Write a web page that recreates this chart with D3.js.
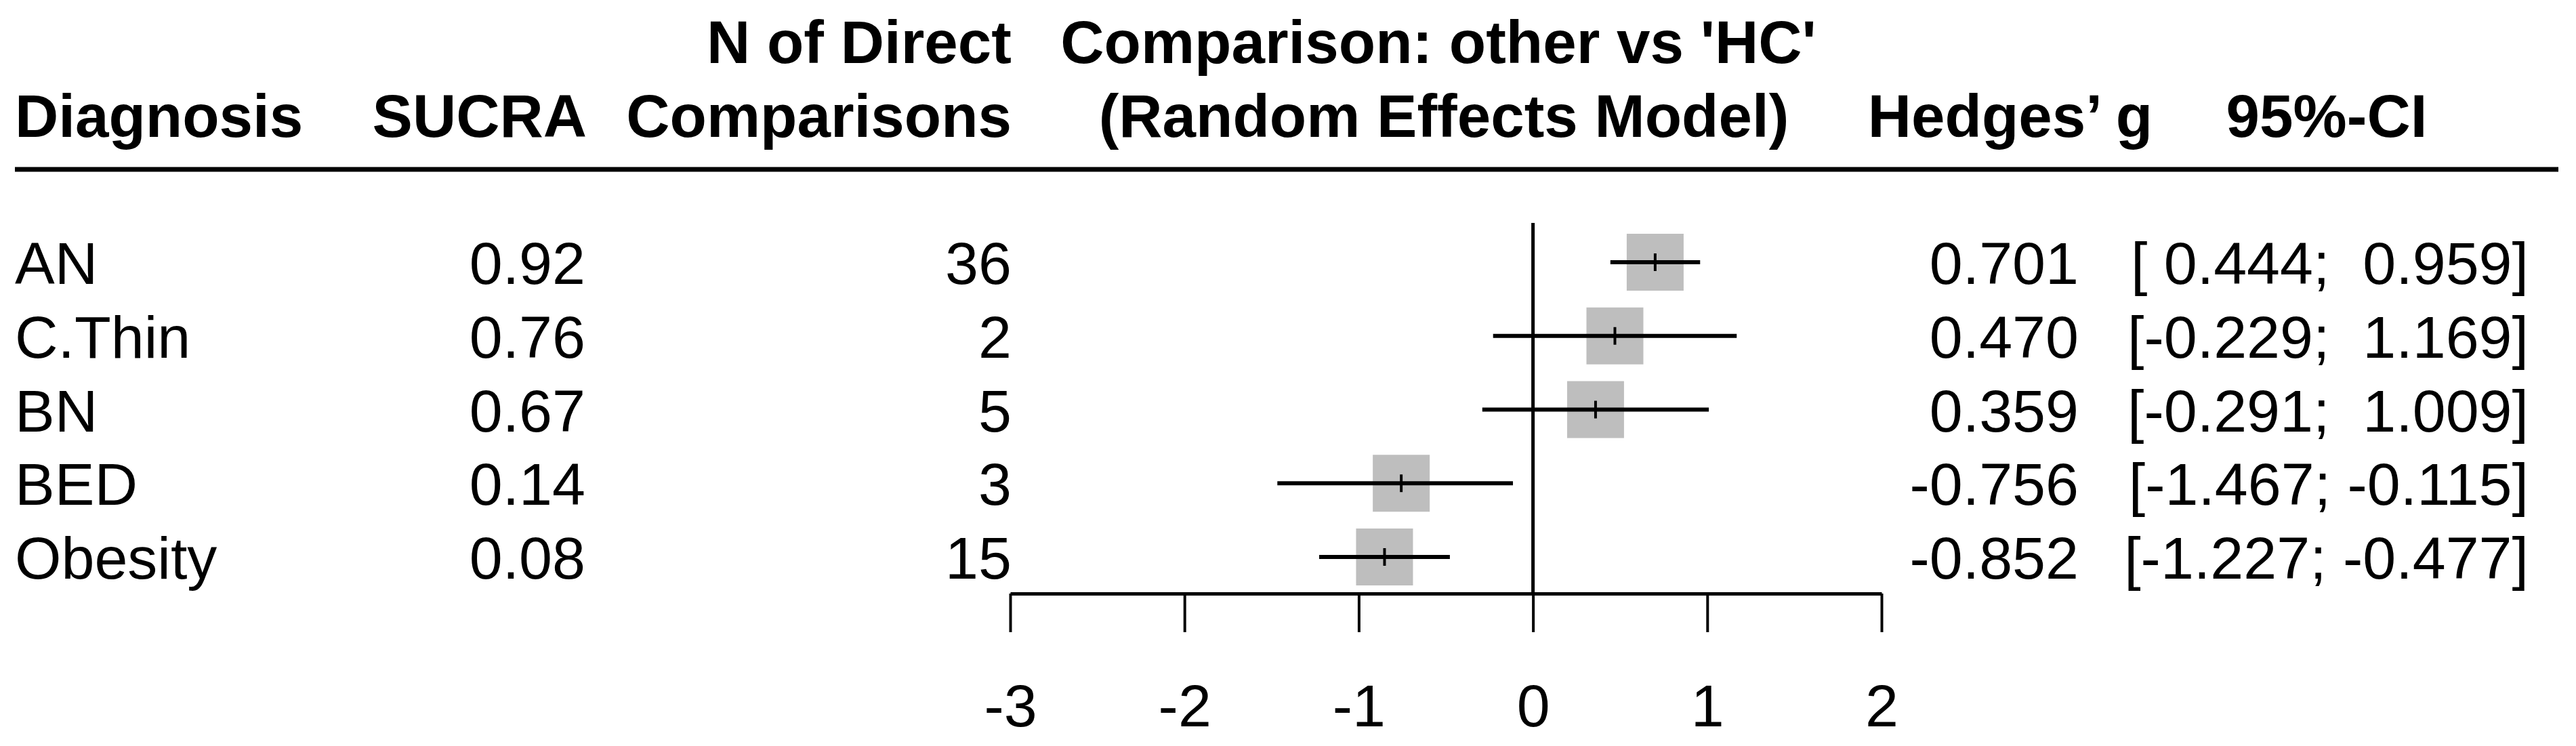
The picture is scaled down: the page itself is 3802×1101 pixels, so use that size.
<!DOCTYPE html>
<html>
<head>
<meta charset="utf-8">
<script src="https://cdn.jsdelivr.net/npm/d3@7"></script>
<style>
  body { margin: 0; background: #fff; }
  text { font-family: "Liberation Sans", Arial, Helvetica, sans-serif; fill: #000; white-space: pre; }
  .head { font-weight: bold; font-size: 89px; }
  .cell { font-size: 88px; }
</style>
</head>
<body>
<div id="chart"></div>
<script>
// table data
var diagnosis = ["AN", "C.Thin", "BN", "BED", "Obesity"];
var sucra = [0.92, 0.76, 0.67, 0.14, 0.08];
var nDirect = [36, 2, 5, 3, 15];
var hedgesG = [0.701, 0.470, 0.359, -0.756, -0.852];
var ciLower = [0.444, -0.229, -0.291, -1.467, -1.227];
var ciUpper = [0.959, 1.169, 1.009, -0.115, -0.477];
var xTicks = [-3, -2, -1, 0, 1, 2];

var width = 3802, height = 1101;

var svg = d3.select("#chart").append("svg")
    .attr("width", width)
    .attr("height", height)
    .attr("viewBox", "0 0 " + width + " " + height);

// scales
var x = d3.scaleLinear().domain([-3, 2]).range([1491, 2777]);
var y = d3.scalePoint().domain(diagnosis).range([387, 822]);

var squareSize = 84;
var axisY = 876;

// column positions
var col = {diag: 22, sucra: 864, n: 1493, g: 3068, ci: 3732};

// headings
var headings = [
    {t: "Diagnosis", x: col.diag, y: 202, a: "start"},
    {t: "SUCRA", x: 866, y: 202, a: "end"},
    {t: "N of Direct", x: col.n, y: 93, a: "end"},
    {t: "Comparisons", x: col.n, y: 202, a: "end"},
    {t: "Comparison: other vs 'HC'", x: 2123, y: 93, a: "middle"},
    {t: "(Random Effects Model)", x: 2131, y: 202, a: "middle"},
    {t: "Hedges\u2019 g", x: 2967, y: 202, a: "middle"},
    {t: "95%-CI", x: 3434, y: 202, a: "middle"}
];
svg.selectAll(".head")
    .data(headings)
    .enter().append("text")
        .attr("class", "head")
        .attr("x", function(d){return d.x;})
        .attr("y", function(d){return d.y;})
        .attr("text-anchor", function(d){return d.a;})
        .text(function(d){return d.t;});

// thick rule under the heading
svg.append("line")
    .attr("x1", 22).attr("x2", 3776)
    .attr("y1", 250).attr("y2", 250)
    .attr("stroke", "#000")
    .attr("stroke-width", 7);

var fmt2 = d3.format(".2f"), fmt3 = d3.format(".3f");
var pad = function(v){ var s = fmt3(v).replace("\u2212", "-"); return (v < 0 ? "" : " ") + s; };

var rows = diagnosis.map(function(d, i){
    return {name: d, sucra: sucra[i], n: nDirect[i], g: hedgesG[i], lo: ciLower[i], hi: ciUpper[i]};
});

var rowG = svg.selectAll(".row")
    .data(rows)
    .enter().append("g")
        .attr("class", "row")
        .attr("transform", function(d){return "translate(0," + y(d.name) + ")";});

function addCell(xPos, anchor, fn) {
    rowG.append("text")
        .attr("class", "cell")
        .attr("x", xPos)
        .attr("y", 32)
        .attr("text-anchor", anchor)
        .text(fn);
}
addCell(col.diag, "start", function(d){return d.name;});
addCell(col.sucra, "end", function(d){return fmt2(d.sucra);});
addCell(col.n, "end", function(d){return d.n;});
addCell(col.g, "end", function(d){return fmt3(d.g).replace("\u2212", "-");});
addCell(col.ci, "end", function(d){return "[" + pad(d.lo) + "; " + pad(d.hi) + "]";});

// reference line at 0
svg.append("line")
    .attr("x1", x(0)).attr("x2", x(0))
    .attr("y1", 329).attr("y2", axisY)
    .attr("stroke", "#000")
    .attr("stroke-width", 5);

// squares, CI lines, estimate ticks
rowG.append("rect")
    .attr("x", function(d){return x(d.g) - squareSize / 2;})
    .attr("y", -squareSize / 2)
    .attr("width", squareSize)
    .attr("height", squareSize)
    .attr("fill", "#bebebe");

rowG.append("line")
    .attr("x1", function(d){return x(d.lo);})
    .attr("x2", function(d){return x(d.hi);})
    .attr("y1", 0).attr("y2", 0)
    .attr("stroke", "#000")
    .attr("stroke-width", 6);

rowG.append("line")
    .attr("x1", function(d){return x(d.g);})
    .attr("x2", function(d){return x(d.g);})
    .attr("y1", -13).attr("y2", 13)
    .attr("stroke", "#000")
    .attr("stroke-width", 4);

// x axis
var axis = svg.append("g")
    .attr("transform", "translate(0," + axisY + ")")
    .call(d3.axisBottom(x).tickValues(xTicks).tickSize(57).tickSizeOuter(0).tickPadding(77)
        .tickFormat(function(d){return String(d);}));
axis.select(".domain").attr("stroke-width", 5).attr("stroke", "#000");
axis.selectAll(".tick line").attr("stroke-width", 4).attr("stroke", "#000");
axis.selectAll(".tick text")
    .attr("font-size", 88)
    .attr("font-family", "Liberation Sans, Arial, Helvetica, sans-serif")
    .attr("fill", "#000");
</script>
</body>
</html>
